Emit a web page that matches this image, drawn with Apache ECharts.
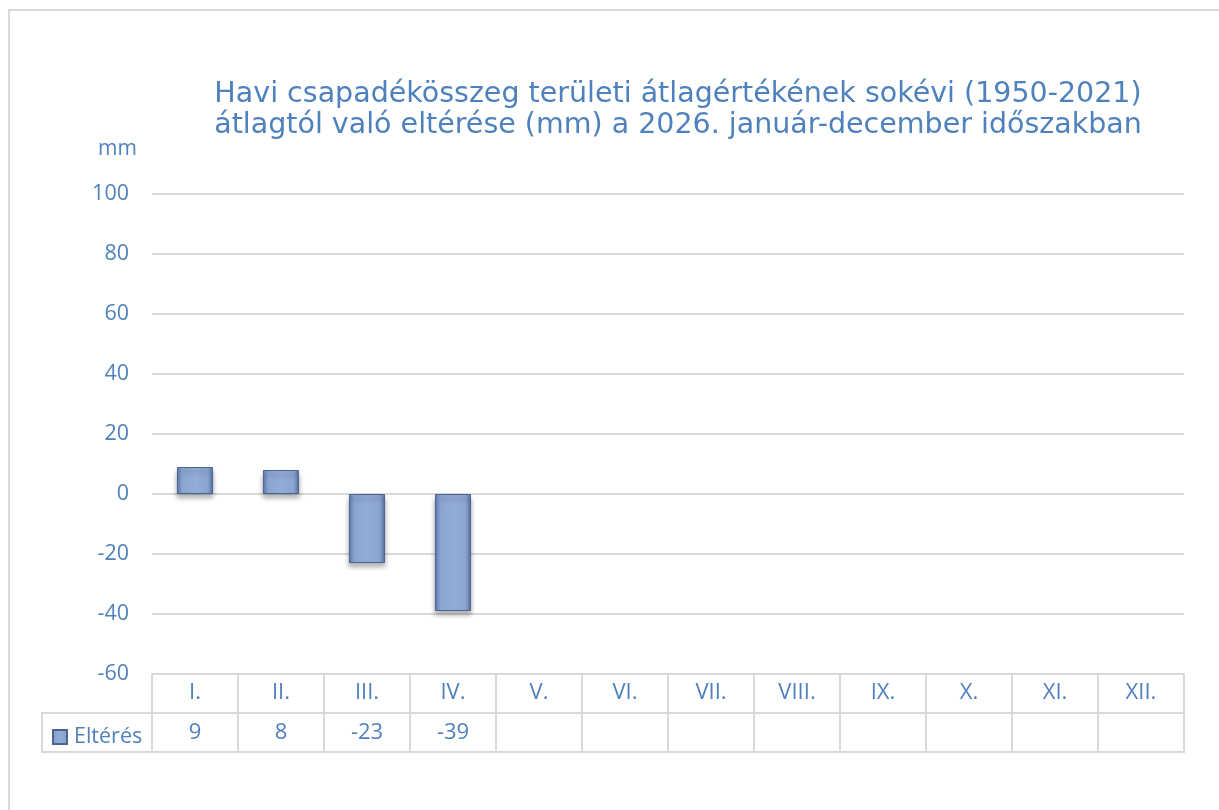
<!DOCTYPE html>
<html>
<head>
<meta charset="utf-8">
<title>Havi csapadékösszeg eltérése</title>
<script src="https://cdn.jsdelivr.net/npm/echarts@6/dist/echarts.min.js"></script>
<style>
  html, body { margin: 0; padding: 0; background: #fff; }
  #main { width: 1219px; height: 810px; }
</style>
</head>
<body>
<div id="main"></div>
<script>
  // adatok
  const months = ['I.', 'II.', 'III.', 'IV.', 'V.', 'VI.', 'VII.', 'VIII.', 'IX.', 'X.', 'XI.', 'XII.']
  const deviation = [9, 8, -23, -39, null, null, null, null, null, null, null, null]
  const yTicks = { min: -60, max: 100, interval: 20 }
  const seriesName = 'Eltérés'

  // elrendezés
  const plotLeft = 152
  const plotRight = 35
  const plotTop = 194
  const plotHeight = 480
  const tableTop = plotTop + plotHeight
  const tableHeight = 78
  const legendCellLeft = 42
  const blue = '#4f81bd'
  const lineGray = '#d9d9d9'
  const labelFont = 'Open Sans'

  const myChart = echarts.init(document.getElementById('main'))
  const rowSplit = tableTop + tableHeight / 2

  myChart.setOption({
    animation: false,
    title: {
      text: 'Havi csapadékösszeg területi átlagértékének sokévi (1950-2021)\nátlagtól való eltérése (mm) a 2026. január-december időszakban',
      left: 673,
      top: 74,
      textAlign: 'center',
      textStyle: {
        color: blue,
        fontFamily: 'DejaVu Sans',
        fontWeight: 'normal',
        fontSize: 28.5,
        lineHeight: 31
      }
    },
    legend: {
      left: 47,
      top: rowSplit + 8,
      icon: 'rect',
      itemWidth: 14,
      itemHeight: 14,
      itemGap: 6,
      data: [seriesName],
      textStyle: { color: blue, fontSize: 21.5, fontFamily: labelFont, padding: [0, 0, 0, 2] }
    },
    grid: [
      { left: plotLeft, right: plotRight, top: plotTop, height: plotHeight },
      {
        left: plotLeft, right: plotRight, top: tableTop, height: tableHeight,
        show: true, borderColor: lineGray, borderWidth: 2
      }
    ],
    xAxis: [
      {
        gridIndex: 0,
        type: 'category',
        data: months,
        axisLine: { show: false },
        axisTick: { show: false },
        axisLabel: { show: false }
      },
      {
        gridIndex: 1,
        type: 'category',
        position: 'top',
        data: months,
        axisLine: { show: false },
        axisTick: { show: false },
        splitLine: { show: true, interval: 0, lineStyle: { color: lineGray, width: 2 } },
        axisLabel: {
          inside: true, margin: 8, interval: 0,
          color: blue, fontSize: 22, fontFamily: labelFont
        }
      },
      {
        gridIndex: 1,
        type: 'category',
        position: 'bottom',
        data: months,
        axisLine: { show: false },
        axisTick: { show: false },
        axisLabel: {
          inside: true, margin: 8, interval: 0,
          color: blue, fontSize: 22, fontFamily: labelFont,
          formatter: (v, i) => (deviation[i] === null ? '' : String(deviation[i]))
        }
      }
    ],
    yAxis: [
      {
        gridIndex: 0,
        type: 'value',
        min: yTicks.min,
        max: yTicks.max,
        interval: yTicks.interval,
        name: 'mm',
        nameLocation: 'end',
        nameGap: 34,
        nameTextStyle: {
          color: blue, fontSize: 21, fontFamily: labelFont,
          align: 'right', padding: [0, 15, 0, 0]
        },
        axisLine: { show: false },
        axisTick: { show: false },
        axisLabel: { color: blue, fontSize: 21.5, fontFamily: labelFont, margin: 23 },
        splitLine: { lineStyle: { color: lineGray, width: 2 } }
      },
      {
        gridIndex: 1,
        type: 'category',
        data: ['', ''],
        axisLine: { show: false },
        axisTick: { show: false },
        axisLabel: { show: false },
        splitLine: { show: true, interval: 0, lineStyle: { color: lineGray, width: 2 } }
      }
    ],
    series: [
      {
        name: seriesName,
        type: 'bar',
        xAxisIndex: 0,
        yAxisIndex: 0,
        data: deviation,
        barWidth: '42%',
        itemStyle: {
          color: new echarts.graphic.LinearGradient(0, 0, 1, 0, [
            { offset: 0, color: '#5f7bae' },
            { offset: 0.14, color: '#8aa4d0' },
            { offset: 0.5, color: '#93acd8' },
            { offset: 0.86, color: '#8aa4d0' },
            { offset: 1, color: '#56709f' }
          ]),
          borderColor: '#4b6590',
          borderWidth: 1,
          shadowColor: 'rgba(0, 0, 0, 0.3)',
          shadowBlur: 5,
          shadowOffsetY: 4
        }
      }
    ],
    graphic: [
      {
        // külső keret
        type: 'rect',
        silent: true,
        shape: { x: 9, y: 10, width: 1400, height: 1000 },
        style: { fill: 'none', stroke: lineGray, lineWidth: 2 }
      },
      {
        // jelmagyarázat cella
        type: 'polyline',
        silent: true,
        shape: {
          points: [
            [plotLeft, rowSplit], [legendCellLeft, rowSplit],
            [legendCellLeft, tableTop + tableHeight], [plotLeft, tableTop + tableHeight]
          ]
        },
        style: { fill: 'none', stroke: lineGray, lineWidth: 2 }
      }
    ]
  })
</script>
</body>
</html>
